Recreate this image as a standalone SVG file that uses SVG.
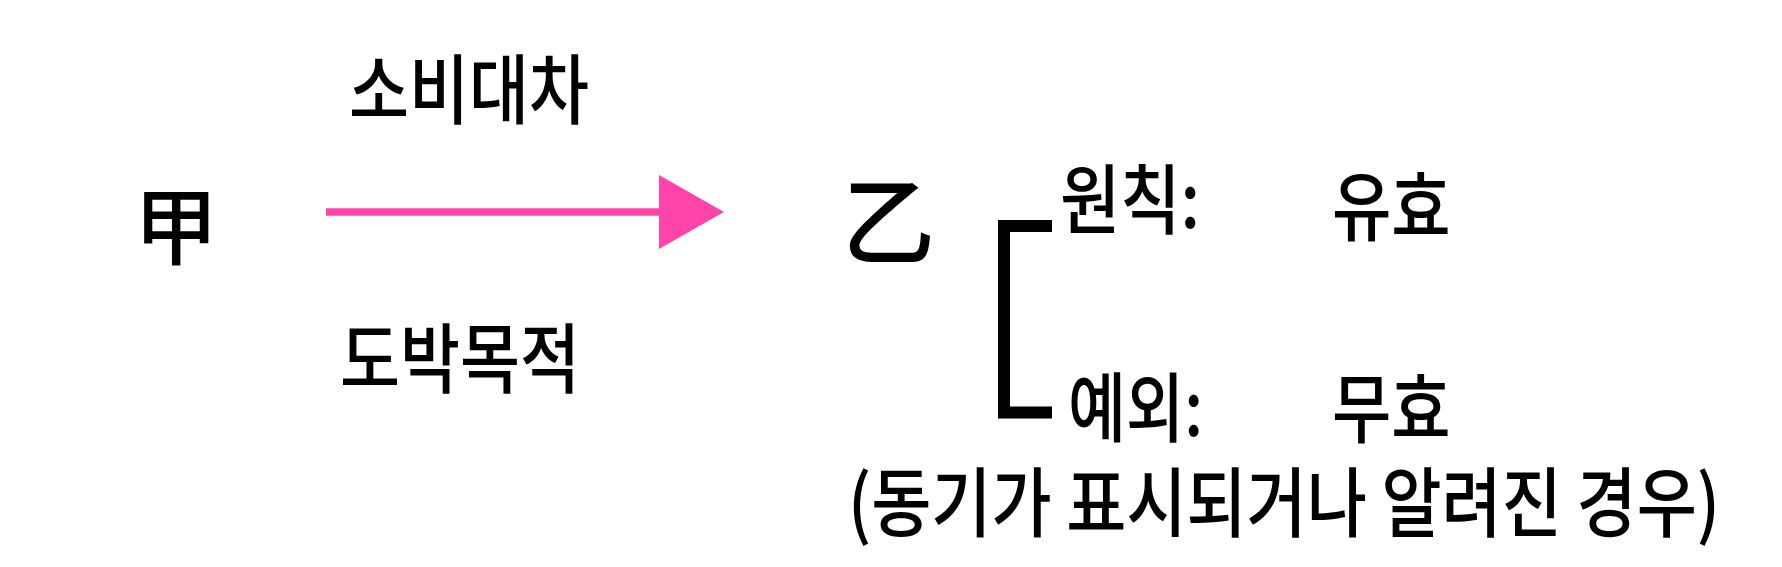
<svg xmlns="http://www.w3.org/2000/svg" width="1782" height="567" viewBox="0 0 1782 567">
<style>
.t{font-family:"Noto Sans CJK KR","Noto Sans CJK SC",sans-serif;fill:#000;font-weight:500;}
.h{font-size:76px;}
</style>
<defs>
<marker id="ah" viewBox="0 0 65 74" refX="0" refY="37" markerWidth="65" markerHeight="74" markerUnits="userSpaceOnUse" orient="auto">
<path d="M0,0 L65,37 L0,74 Z" fill="#FF45AA"/>
</marker>
</defs>
<rect width="1782" height="567" fill="#fff"/>
<g id="connectors">
<line x1="326" y1="212" x2="659" y2="212" stroke="#FF45AA" stroke-width="7.5" marker-end="url(#ah)"/>
<path d="M1052,226 H1004 V412.5 H1052" fill="none" stroke="#000" stroke-width="12"/>
</g>
<g id="node-gap"><text class="t" font-size="84" x="134" y="258" textLength="84" lengthAdjust="spacingAndGlyphs">甲</text></g>
<g id="node-eul"><text class="t" font-size="96" x="842" y="256.5" textLength="93" lengthAdjust="spacingAndGlyphs">乙</text></g>
<g id="label-top"><text class="t h" x="349" y="118" textLength="240" lengthAdjust="spacingAndGlyphs">소비대차</text></g>
<g id="label-bottom"><text class="t h" x="340" y="387" textLength="240" lengthAdjust="spacingAndGlyphs">도박목적</text></g>
<g id="node-principle"><text class="t h" x="1060" y="228" textLength="140" lengthAdjust="spacingAndGlyphs">원칙:</text></g>
<g id="node-valid"><text class="t h" x="1332" y="235" textLength="118.5" lengthAdjust="spacingAndGlyphs">유효</text></g>
<g id="node-exception"><text class="t h" x="1068" y="435.5" textLength="135" lengthAdjust="spacingAndGlyphs">예외:</text></g>
<g id="node-invalid"><text class="t h" x="1332" y="437" textLength="118.5" lengthAdjust="spacingAndGlyphs">무효</text></g>
<g id="note"><text class="t h" x="848" y="530.5" textLength="872" lengthAdjust="spacingAndGlyphs">(동기가 표시되거나 알려진 경우)</text></g>
</svg>
